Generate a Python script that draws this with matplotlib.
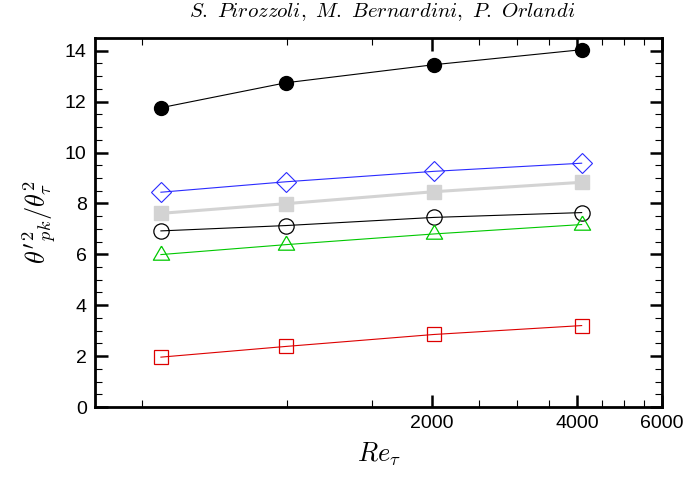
import numpy as np
import matplotlib
matplotlib.use('Agg')
from matplotlib import pyplot as plt
from matplotlib.ticker import FixedLocator, NullFormatter, FixedFormatter, MultipleLocator

plt.rcParams['mathtext.fontset'] = 'cm'
plt.rcParams['font.family'] = ['Liberation Sans', 'DejaVu Sans']

# friction Reynolds numbers of the four runs
re_tau = [548, 995, 2017, 4088]

# peak scalar variance, one list per series
filled_circle = [11.76, 12.74, 13.45, 14.04]
diamond = [8.44, 8.85, 9.26, 9.58]
gray_square = [7.61, 7.99, 8.46, 8.83]
open_circle = [6.92, 7.13, 7.45, 7.64]
triangle = [5.99, 6.38, 6.80, 7.17]
red_square = [1.96, 2.38, 2.85, 3.20]

xticks = [2000, 4000, 6000]
xminor = [500, 1000, 1500, 2500, 3000, 3500, 4500, 5000, 5500]

# triangle centred on its centroid (tecplot style)
tri = [(0, 1), (-0.866, -0.5), (0.866, -0.5), (0, 1)]

fig = plt.figure(figsize=(6.85, 4.78), dpi=100)
ax = fig.add_axes([0.1387, 0.1485, 0.8277, 0.772])

ax.plot(re_tau, filled_circle, '-', color='black', lw=0.8,
        marker='o', ms=10, mfc='black', mec='black')
ax.plot(re_tau, diamond, '-', color='#2b2bff', lw=0.8,
        marker='D', ms=10, mfc='none', mec='#2b2bff', mew=0.8)
ax.plot(re_tau, gray_square, '-', color='#d3d3d3', lw=2.2,
        marker='s', ms=10, mfc='#d3d3d3', mec='#d3d3d3')
ax.plot(re_tau, open_circle, '-', color='black', lw=0.8,
        marker='o', ms=11, mfc='none', mec='black', mew=0.9)
ax.plot(re_tau, triangle, '-', color='#00c800', lw=0.8,
        marker=tri, ms=13.5, mfc='none', mec='#00c800', mew=0.9)
ax.plot(re_tau, red_square, '-', color='#dd0000', lw=0.8,
        marker='s', ms=10, mfc='none', mec='#dd0000', mew=0.9)

ax.set_xscale('log')
ax.set_xlim(400, 6000)
ax.set_ylim(0, 14.5)

ax.xaxis.set_major_locator(FixedLocator(xticks))
ax.xaxis.set_major_formatter(FixedFormatter([str(t) for t in xticks]))
ax.xaxis.set_minor_locator(FixedLocator(xminor))
ax.xaxis.set_minor_formatter(NullFormatter())
ax.yaxis.set_major_locator(MultipleLocator(2))
ax.yaxis.set_minor_locator(MultipleLocator(0.5))

ax.tick_params(which='both', direction='in', top=True, right=True, labelsize=14)
ax.tick_params(which='major', length=9, width=1.8, pad=6)
ax.tick_params(which='minor', length=5, width=0.8)
for s in ax.spines.values():
    s.set_linewidth(2.0)

ax.set_xlabel(r'$Re_\tau$', fontsize=19, labelpad=6)
ax.set_ylabel(r"$\theta'^2_{pk}/\theta^2_\tau$", fontsize=19, labelpad=4)

fig.text(0.558, 0.975, r'$S.\ Pirozzoli,\ M.\ Bernardini,\ P.\ Orlandi$',
         ha='center', va='center', fontsize=15)

fig.savefig('out.png', dpi=100)
